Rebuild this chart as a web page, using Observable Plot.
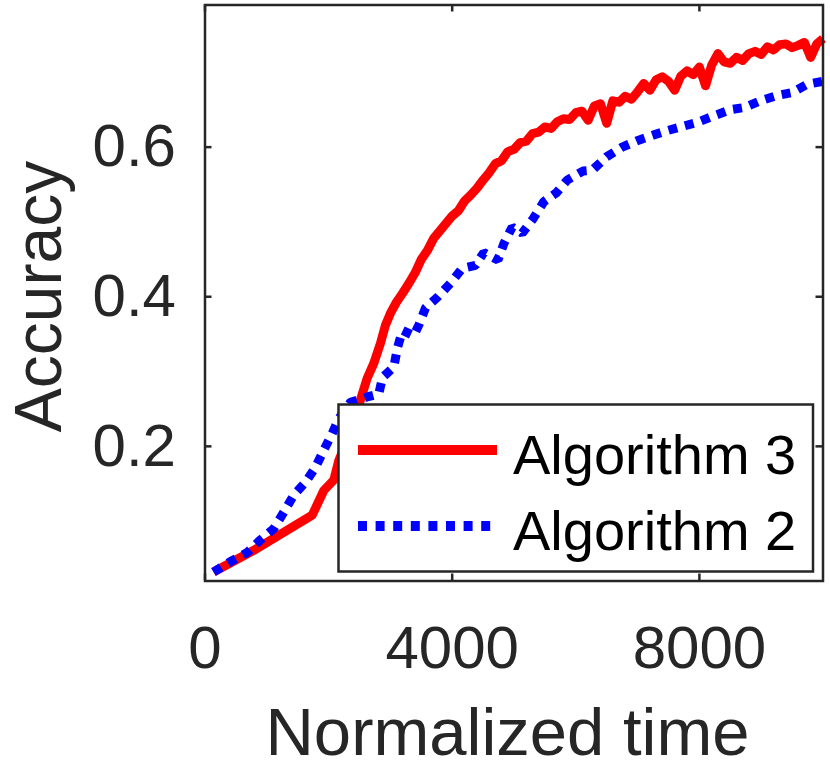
<!DOCTYPE html>
<html>
<head>
<meta charset="utf-8">
<script src="https://cdn.jsdelivr.net/npm/d3@7"></script>
<script src="https://cdn.jsdelivr.net/npm/@observablehq/plot@0.6"></script>
<style>
  html, body { margin: 0; padding: 0; background: #fff; }
  #chart { width: 830px; height: 769px; }
</style>
</head>
<body>
<div id="chart"></div>
<script>
// ---- data ----
const seriesNames = ["Algorithm 3", "Algorithm 2"];
const seriesColors = ["#ff0000", "#0000ff"];
const xTicks = [0, 4000, 8000];
const yTicks = [0.2, 0.4, 0.6];
const xLabel = "Normalized time";
const yLabel = "Accuracy";

const alg3X = [138, 790, 1735, 1922, 2084, 2165, 2301, 2463, 2624, 2731, 2840, 2920, 3001,
  3100, 3200, 3300, 3400, 3500, 3600, 3700, 3800, 3900, 4000, 4100, 4200, 4300, 4400, 4500,
  4600, 4700, 4800, 4900, 5000, 5100, 5200, 5300, 5400, 5500, 5600, 5700, 5800, 5900, 6000,
  6100, 6200, 6300, 6400, 6500, 6600, 6700, 6800, 6900, 7000, 7100, 7200, 7300, 7400, 7500,
  7600, 7700, 7800, 7900, 8000, 8100, 8200, 8300, 8400, 8500, 8600, 8700, 8800, 8900, 9000,
  9100, 9200, 9300, 9400, 9500, 9600, 9700, 9800, 9900, 10000];
const alg3Y = [0.032, 0.061, 0.108, 0.141, 0.155, 0.181, 0.208, 0.248, 0.291, 0.311, 0.338, 0.362, 0.378,
  0.393, 0.405, 0.418, 0.432, 0.450, 0.462, 0.478, 0.488, 0.498, 0.508, 0.515, 0.528, 0.536, 0.545, 0.556,
  0.566, 0.578, 0.582, 0.594, 0.597, 0.606, 0.608, 0.618, 0.620, 0.627, 0.625, 0.634, 0.638, 0.637, 0.646,
  0.648, 0.636, 0.655, 0.658, 0.632, 0.662, 0.660, 0.668, 0.664, 0.674, 0.685, 0.676, 0.690, 0.694, 0.688,
  0.676, 0.695, 0.702, 0.697, 0.707, 0.682, 0.710, 0.725, 0.714, 0.712, 0.720, 0.716, 0.725, 0.728, 0.724,
  0.734, 0.730, 0.737, 0.738, 0.733, 0.736, 0.740, 0.720, 0.738, 0.745];

const alg2X = [138, 413, 683, 898, 1113, 1275, 1437, 1626, 1788, 1922, 2058, 2165, 2354, 2624, 2812,
  2872, 3055, 3115, 3196, 3378, 3459, 3568, 3757, 3972, 4162, 4377, 4511, 4741, 4835, 4970, 5132,
  5307, 5482, 5687, 5861, 6116, 6265, 6496, 6750, 7006, 7249, 7478, 7694, 7964, 8206, 8503, 8729,
  8988, 9258, 9501, 9744, 10000];
const alg2Y = [0.032, 0.046, 0.058, 0.075, 0.090, 0.112, 0.135, 0.152, 0.172, 0.195, 0.217, 0.237, 0.259, 0.266, 0.270,
  0.292, 0.306, 0.332, 0.355, 0.348, 0.362, 0.385, 0.399, 0.418, 0.438, 0.442, 0.459, 0.449, 0.471, 0.493, 0.485,
  0.504, 0.527, 0.539, 0.556, 0.568, 0.569, 0.587, 0.600, 0.609, 0.616, 0.622, 0.627, 0.633, 0.641, 0.650, 0.653,
  0.662, 0.669, 0.673, 0.684, 0.688];

// ---- build tables ----
const alg3 = alg3X.map((x, i) => ({x, y: alg3Y[i]}));
const alg2 = alg2X.map((x, i) => ({x, y: alg2Y[i]}));

const W = 830, H = 769;
const mL = 204.5, mR = 7.5, mT = 4.5, mB = 188.5;
const innerW = W - mL - mR, innerH = H - mT - mB;
const axisColor = "#262626";
const tickLen = 7;

const plot = Plot.plot({
  width: W, height: H,
  marginLeft: mL, marginRight: mR, marginTop: mT, marginBottom: mB,
  style: {fontFamily: "'Liberation Sans', Arial, Helvetica, sans-serif", color: axisColor, background: "#fff"},
  x: {domain: [0, 10000]},
  y: {domain: [0.02, 0.79]},
  marks: [
    Plot.line(alg3, {x: "x", y: "y", stroke: seriesColors[0], strokeWidth: 9, strokeLinejoin: "round", strokeLinecap: "butt"}),
    Plot.line(alg2, {x: "x", y: "y", stroke: seriesColors[1], strokeWidth: 9, strokeDasharray: "9,8", strokeLinejoin: "miter", strokeLinecap: "butt"}),
    Plot.frame({stroke: axisColor, strokeWidth: 2.5}),
    Plot.tickX(xTicks, {x: d => d, insetTop: innerH - tickLen, stroke: axisColor, strokeWidth: 2.5}),
    Plot.tickX(xTicks, {x: d => d, insetBottom: innerH - tickLen, stroke: axisColor, strokeWidth: 2.5}),
    Plot.tickY(yTicks, {y: d => d, insetRight: innerW - tickLen, stroke: axisColor, strokeWidth: 2.5}),
    Plot.tickY(yTicks, {y: d => d, insetLeft: innerW - tickLen, stroke: axisColor, strokeWidth: 2.5}),
    Plot.axisX({ticks: xTicks, tickSize: 0, tickPadding: 44, fontSize: 60, tickFormat: d => String(d), label: null}),
    Plot.axisY({ticks: yTicks, tickSize: 0, tickPadding: 29, fontSize: 60, tickFormat: d => d.toFixed(1), label: null})
  ]
});

document.getElementById("chart").appendChild(plot);

// ---- axis titles and legend ----
const svg = d3.select(plot);
svg.append("text")
  .attr("transform", `translate(61, ${mT + innerH / 2 + 4}) rotate(-90)`)
  .attr("text-anchor", "middle")
  .attr("font-size", 66)
  .attr("fill", axisColor)
  .text(yLabel);
svg.append("text")
  .attr("x", mL + innerW / 2 - 6)
  .attr("y", 755)
  .attr("text-anchor", "middle")
  .attr("font-size", 67)
  .attr("fill", axisColor)
  .text(xLabel);

const lg = svg.append("g");
lg.append("rect")
  .attr("x", 338.5).attr("y", 404.5).attr("width", 474.5).attr("height", 167)
  .attr("fill", "#fff").attr("stroke", axisColor).attr("stroke-width", 2.5);
const rowY = [450, 526];
seriesNames.forEach((name, i) => {
  lg.append("line")
    .attr("x1", 358).attr("x2", 497).attr("y1", rowY[i]).attr("y2", rowY[i])
    .attr("stroke", seriesColors[i]).attr("stroke-width", 10)
    .attr("stroke-dasharray", i === 1 ? "9,8.6" : null);
  lg.append("text")
    .attr("x", 513).attr("y", rowY[i] + 24)
    .attr("text-anchor", "start")
    .attr("font-size", 56)
    .attr("fill", "#000")
    .text(name);
});
</script>
</body>
</html>
